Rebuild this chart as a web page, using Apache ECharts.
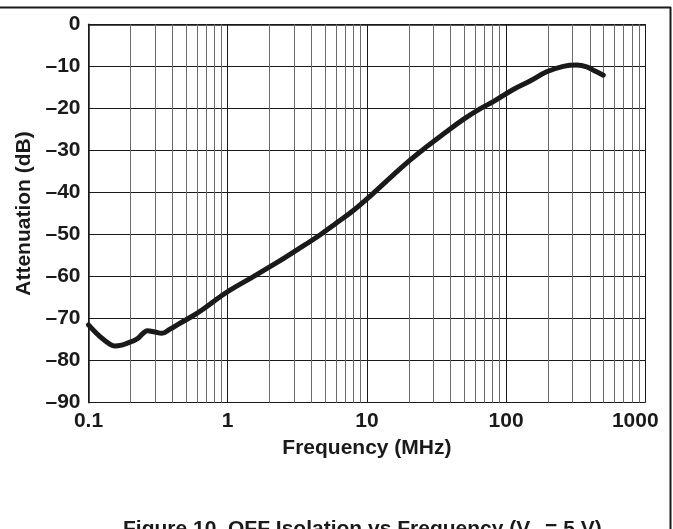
<!DOCTYPE html>
<html>
<head>
<meta charset="utf-8">
<script src="https://cdn.jsdelivr.net/npm/echarts@6/dist/echarts.min.js"></script>
<style>
html,body{margin:0;padding:0;background:#fff;}
#c{width:673px;height:529px;}
</style>
</head>
<body>
<div id="c"></div>
<script>
// ---- data ----
const freqMHz = [0.1, 0.121, 0.143, 0.155, 0.173, 0.188, 0.222, 0.247, 0.265, 0.300, 0.336, 0.385, 0.454, 0.552, 0.669, 0.882,
  1.04, 1.53, 2.25, 3.13, 4.60, 6.07, 7.99, 11.1, 15.5, 20.4, 26.9, 35.4, 49.3, 64.9, 80.9, 112.6, 148.5, 195.7, 257.6, 321.5, 379.3, 435, 499];
const attenuationDb = [-71.5, -74.3, -76.1, -76.5, -76.3, -75.9, -74.9, -73.5, -72.9, -73.2, -73.5, -72.5, -71.1, -69.5, -67.7, -64.8,
  -63.2, -60.0, -56.7, -53.7, -50.1, -47.2, -44.3, -40.2, -35.8, -32.3, -29.1, -26.1, -22.6, -20.1, -18.4, -15.5, -13.5, -11.3, -10.0, -9.7, -10.1, -11.1, -12.1];
const xTickLabels = ['0.1', '1', '10', '100', '1000'];
const minorGridFreqs = [0.2, 0.3, 0.4, 0.5, 0.6, 0.7, 0.8, 0.9,
  2, 3, 4, 5, 6, 7, 8, 9,
  20, 30, 40, 50, 60, 70, 80, 90,
  200, 300, 400, 500, 600, 700, 800, 900];
const yMin = -90, yMax = 0, yStep = 10;
const xTitle = 'Frequency (MHz)';
const yTitle = 'Attenuation (dB)';

const FONT = '"Liberation Sans", Arial, Helvetica, sans-serif';
const INK = '#1a1a1a';

const chart = echarts.init(document.getElementById('c'), null, {renderer: 'canvas'});

function fmtX(v) {
  const e = Math.round(Math.log10(v));
  const idx = e + 1;
  const t = xTickLabels[idx] !== undefined ? xTickLabels[idx] : '';
  return idx === xTickLabels.length - 1 ? '{last|' + t + '}' : t;
}

chart.setOption({
  backgroundColor: '#fff',
  animation: false,
  title: {
    left: 118,
    top: 512,
    text: '{a|Figure 10. OFF Isolation vs Frequency (V}{s|+}{a| = 5 V)}',
    textStyle: {
      rich: {
        a: {fontFamily: FONT, fontWeight: 'bold', fontSize: 21, color: INK, lineHeight: 24},
        s: {fontFamily: FONT, fontWeight: 'bold', fontSize: 12, color: INK, lineHeight: 14, verticalAlign: 'bottom', padding: [0, 1, 0, 1]}
      }
    }
  },
  grid: {left: 88.5, right: 27.7, top: 24.3, bottom: 126.3, containLabel: false},
  xAxis: {
    type: 'log',
    logBase: 10,
    min: 0.1,
    max: 1000,
    name: xTitle,
    nameLocation: 'middle',
    nameGap: 35,
    nameTextStyle: {fontFamily: FONT, fontWeight: 'bold', fontSize: 21, color: INK},
    axisLine: {show: true, lineStyle: {color: INK, width: 1.5}},
    axisTick: {show: false},
    axisLabel: {
      margin: 8,
      fontFamily: FONT, fontWeight: 'bold', fontSize: 21, color: INK,
      showMinLabel: true, showMaxLabel: true,
      formatter: fmtX,
      rich: {
        last: {fontFamily: FONT, fontWeight: 'bold', fontSize: 21, color: INK, padding: [0, 20, 0, 0]}
      }
    },
    splitLine: {show: true, lineStyle: {color: INK, width: 1}},
    minorTick: {show: false},
    minorSplitLine: {show: false}
  },
  yAxis: {
    type: 'value',
    min: yMin,
    max: yMax,
    interval: yStep,
    name: yTitle,
    nameLocation: 'middle',
    nameGap: 54,
    nameRotate: 90,
    nameTextStyle: {fontFamily: FONT, fontWeight: 'bold', fontSize: 21, color: INK},
    axisLine: {show: true, lineStyle: {color: INK, width: 1.5}},
    axisTick: {show: false},
    axisLabel: {
      margin: 8,
      fontFamily: FONT, fontWeight: 'bold', fontSize: 21, color: INK,
      formatter: v => (v < 0 ? '\u2013' + Math.abs(v) : String(v))
    },
    splitLine: {show: true, lineStyle: {color: INK, width: 1}}
  },
  series: [{
    type: 'line',
    data: freqMHz.map((f, i) => [f, attenuationDb[i]]),
    smooth: 0.4,
    showSymbol: false,
    symbol: 'none',
    lineStyle: {color: INK, width: 5, cap: 'round', join: 'round'},
    z: 5,
    markLine: {
      silent: true,
      symbol: ['none', 'none'],
      label: {show: false},
      animation: false,
      lineStyle: {color: '#6a6a6a', width: 1, type: 'solid'},
      emphasis: {disabled: true},
      data: minorGridFreqs.map(f => ({xAxis: f}))
    }
  }],
  graphic: [
    {type: 'line', silent: true, shape: {x1: 0, y1: 7.5, x2: 671, y2: 7.5}, style: {stroke: INK, lineWidth: 2}},
    {type: 'line', silent: true, shape: {x1: 670.5, y1: 7, x2: 670.5, y2: 529}, style: {stroke: INK, lineWidth: 2}}
  ]
});
</script>
</body>
</html>
